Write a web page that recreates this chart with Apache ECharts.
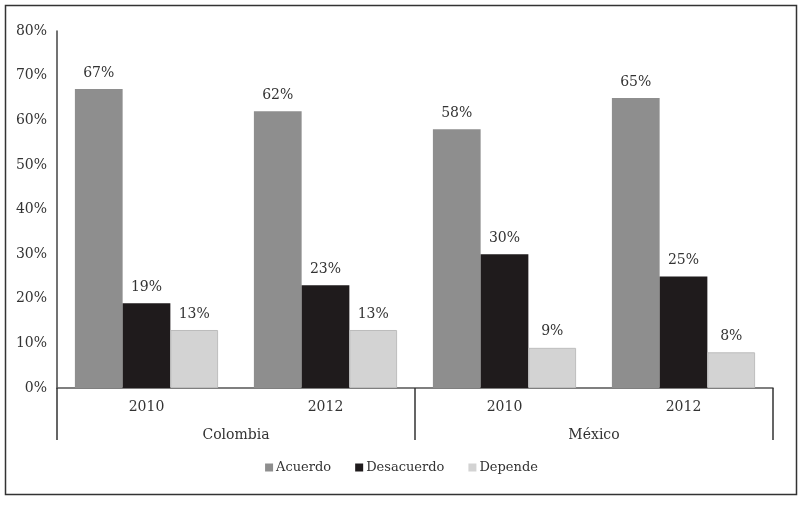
<!DOCTYPE html>
<html>
<head>
<meta charset="utf-8">
<script src="https://cdn.jsdelivr.net/npm/echarts@6/dist/echarts.min.js"></script>
<style>html,body{margin:0;padding:0;background:#fff;}#c{width:803px;height:505px;}</style>
</head>
<body>
<div id="c"></div>
<script>
const years = ['2010', '2012', '2010', '2012'];
const countries = ['Colombia', 'México'];
const seriesNames = ['Acuerdo', 'Desacuerdo', 'Depende'];
const acuerdo = [67, 62, 58, 65];
const desacuerdo = [19, 23, 30, 25];
const depende = [13, 13, 9, 8];
const yTicks = [0, 10, 20, 30, 40, 50, 60, 70, 80];

const FONT = 'DejaVu Serif';
const colors = ['#8e8e8e', '#1f1b1c', '#d3d3d3'];
const chart = echarts.init(document.getElementById('c'), null, {renderer: 'canvas'});
const lbl = {show: true, position: 'top', distance: 9, formatter: '{c}%', fontFamily: FONT, fontSize: 14, color: '#333'};
function mk(name, data, i) {
  return {
    name: name, type: 'bar', data: data, barGap: '0%', barCategoryGap: '20%',
    itemStyle: {color: colors[i], borderColor: i === 2 ? '#bdbdbd' : colors[i], borderWidth: i === 2 ? 1 : 0},
    label: lbl
  };
}
chart.setOption({
  animation: false,
  color: colors,
  graphic: [{type: 'rect', shape: {x: 5.5, y: 5.5, width: 791, height: 489}, style: {fill: 'none', stroke: '#333', lineWidth: 1.5}, silent: true}],
  grid: {left: 57, right: 30, top: 31, bottom: 117, containLabel: false},
  legend: {
    data: seriesNames, bottom: 26, left: 'center', itemWidth: 8, itemHeight: 8, itemGap: 24,
    icon: 'rect', itemStyle: {borderWidth: 0},
    textStyle: {fontFamily: FONT, fontSize: 13, color: '#333', padding: [0, 0, 0, -2]}
  },
  xAxis: [
    {type: 'category', data: years, position: 'bottom',
     axisLine: {show: true, lineStyle: {color: '#555', width: 1.5}},
     axisTick: {show: false},
     axisLabel: {fontFamily: FONT, fontSize: 14, color: '#333', margin: 12}},
    {type: 'category', data: countries, position: 'bottom', gridIndex: 0,
     axisLine: {show: false},
     axisTick: {show: true, length: 52, interval: 0, lineStyle: {color: '#333', width: 1.5}},
     axisLabel: {fontFamily: FONT, fontSize: 14, color: '#333', margin: 40}}
  ],
  yAxis: {
    type: 'value', min: yTicks[0], max: yTicks[yTicks.length - 1], interval: 10,
    axisLine: {show: true, lineStyle: {color: '#444', width: 1.5}},
    axisTick: {show: false},
    splitLine: {show: false},
    axisLabel: {formatter: '{value}%', fontFamily: FONT, fontSize: 14, color: '#333', margin: 10}
  },
  series: [mk(seriesNames[0], acuerdo, 0), mk(seriesNames[1], desacuerdo, 1), mk(seriesNames[2], depende, 2)]
});
</script>
</body>
</html>
